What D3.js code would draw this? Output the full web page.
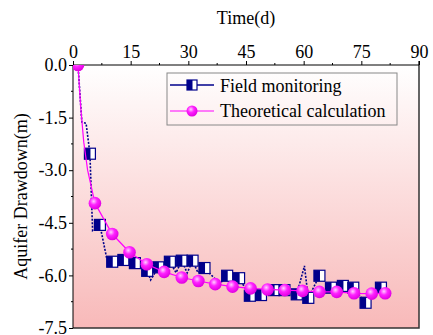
<!DOCTYPE html>
<html>
<head>
<meta charset="utf-8">
<script src="https://cdn.jsdelivr.net/npm/d3@7"></script>
<style>
  body { margin: 0; background: #fff; }
  text { font-family: "Liberation Serif", "Tinos", "Times New Roman", "DejaVu Serif Condensed", "DejaVu Serif", serif; fill: #000; }
</style>
</head>
<body>
<svg id="chart" width="433" height="335"></svg>
<script>
// field monitoring, line vertices (days, drawdown m)
var fieldDays = [1.3, 2.3, 3.4, 4.4, 5.1, 7.0, 8.8, 10.2, 13.1, 16.1, 19.3, 20.2, 22.2, 25.2, 26.8, 28.3, 29.7, 31.1, 32.5, 34.2, 38.2, 40.1, 43.2, 46.0, 48.9, 52.3, 55.0, 58.2, 60.2, 61.2, 64.1, 67.1, 70.2, 72.9, 76.1, 80.1];
var fieldDrawdown = [0, -1.63, -1.66, -2.53, -4.72, -4.56, -5.53, -5.61, -5.56, -5.65, -5.87, -6.13, -5.77, -5.61, -5.92, -5.58, -5.93, -5.58, -5.92, -5.79, -6.24, -6.01, -6.08, -6.58, -6.56, -6.42, -6.42, -6.54, -5.73, -6.64, -6.01, -6.35, -6.30, -6.35, -6.78, -6.35];
// days that carry a square symbol
var fieldMarked = [4.4, 7.0, 10.2, 13.1, 16.1, 19.3, 22.2, 25.2, 28.3, 31.1, 34.2, 40.1, 43.2, 46.0, 48.9, 52.3, 55.0, 58.2, 61.2, 64.1, 67.1, 70.2, 72.9, 76.1, 80.1];

// theoretical calculation
var theoDays = [1.3, 2.0, 2.8, 3.8, 5.7, 10.2, 14.7, 19.2, 23.7, 28.3, 32.6, 37.0, 41.5, 46.2, 50.6, 55.1, 59.7, 64.1, 68.6, 73.1, 77.7, 81.2];
var theoDrawdown = [0, -1.2, -2.2, -3.0, -3.94, -4.82, -5.34, -5.68, -5.90, -6.06, -6.16, -6.25, -6.32, -6.37, -6.40, -6.42, -6.44, -6.47, -6.47, -6.51, -6.52, -6.51];
var theoMarked = [1.3, 5.7, 10.2, 14.7, 19.2, 23.7, 28.3, 32.6, 37.0, 41.5, 46.2, 50.6, 55.1, 59.7, 64.1, 68.6, 73.1, 77.7, 81.2];

var xTicks = [0, 15, 30, 45, 60, 75, 90];
var yTicks = [0, -1.5, -3, -4.5, -6, -7.5];
var seriesNames = ["Field monitoring", "Theoretical calculation"];

var navy = "#00008b", magenta = "#ff00ff";
var pL = 73, pR = 419, pT = 65, pB = 328;
var fontFam = "'Liberation Serif', Tinos, 'Times New Roman', 'DejaVu Serif Condensed', 'DejaVu Serif', serif";

var svg = d3.select("#chart");

var x = d3.scaleLinear().domain([0, 90]).range([pL, pR]);
var y = d3.scaleLinear().domain([0, -7.5]).range([pT, pB]);

var defs = svg.append("defs");
var bg = defs.append("linearGradient").attr("id", "bg")
    .attr("x1", 0).attr("y1", 0).attr("x2", 0).attr("y2", 1);
bg.append("stop").attr("offset", "0%").attr("stop-color", "#ffffff");
bg.append("stop").attr("offset", "100%").attr("stop-color", "#f8b9b9");

var ball = defs.append("radialGradient").attr("id", "ball")
    .attr("cx", "40%").attr("cy", "35%").attr("r", "65%");
ball.append("stop").attr("offset", "0%").attr("stop-color", "#ffd0ff");
ball.append("stop").attr("offset", "45%").attr("stop-color", "#ff22ff");
ball.append("stop").attr("offset", "100%").attr("stop-color", "#e000e0");

defs.append("clipPath").attr("id", "plotclip")
  .append("rect").attr("x", pL).attr("y", pT)
    .attr("width", pR - pL).attr("height", pB - pT);

svg.append("rect")
    .attr("x", pL).attr("y", pT)
    .attr("width", pR - pL).attr("height", pB - pT)
    .attr("fill", "url(#bg)");

// right and bottom frame
svg.append("path")
    .attr("d", "M" + pR + "," + (pT - 4) + "V" + pB + "H" + pL)
    .attr("fill", "none").attr("stroke", "#333").attr("stroke-width", 1.5);

// top axis
var xAxis = d3.axisTop(x).tickValues(xTicks).tickSize(4).tickPadding(3);
var gx = svg.append("g").attr("transform", "translate(0," + pT + ")").call(xAxis);
gx.attr("font-family", null);
gx.selectAll("line").attr("stroke", "#000");
gx.select(".domain").attr("stroke", "#000").attr("d", "M" + pL + ",0H" + pR);
gx.selectAll("text").style("font-size", "18px").style("font-family", fontFam);
gx.selectAll(".minor").data(d3.range(7.5, 90, 15)).enter().append("line")
    .attr("x1", function(d) { return x(d); }).attr("x2", function(d) { return x(d); })
    .attr("y1", 0).attr("y2", -2).attr("stroke", "#000");

// left axis
var yAxis = d3.axisLeft(y).tickValues(yTicks).tickSize(4).tickPadding(2)
    .tickFormat(function(d) { return d3.format(".1f")(d).replace("\u2212", "-"); });
var gy = svg.append("g").attr("transform", "translate(" + pL + ",0)").call(yAxis);
gy.attr("font-family", null);
gy.selectAll("line").attr("stroke", "#000");
gy.select(".domain").attr("stroke", "#000").attr("d", "M0," + pT + "V" + pB);
gy.selectAll("text").style("font-size", "18px").style("font-family", fontFam);
gy.selectAll(".minor").data(d3.range(-0.75, -7.5, -1.5)).enter().append("line")
    .attr("y1", function(d) { return y(d); }).attr("y2", function(d) { return y(d); })
    .attr("x1", 0).attr("x2", -2).attr("stroke", "#000");

svg.append("text")
    .attr("x", (pL + pR) / 2).attr("y", 24)
    .attr("text-anchor", "middle").style("font-size", "18px")
    .text("Time(d)");
svg.append("text")
    .attr("transform", "translate(27," + (pT + pB) / 2 + ") rotate(-90)")
    .attr("text-anchor", "middle").style("font-size", "18px")
    .text("Aquifer Drawdown(m)");

var plot = svg.append("g").attr("clip-path", "url(#plotclip)");

var field = fieldDays.map(function(d, i) { return [d, fieldDrawdown[i]]; });
var theo = theoDays.map(function(d, i) { return [d, theoDrawdown[i]]; });
var line = d3.line().x(function(d) { return x(d[0]); }).y(function(d) { return y(d[1]); });

function square(g, cx, cy, s) {
  g.append("rect").attr("x", cx - s / 2).attr("y", cy - s / 2)
      .attr("width", s).attr("height", s)
      .attr("fill", "#fff").attr("stroke", navy).attr("stroke-width", 1.2);
  g.append("rect").attr("x", cx - s / 2).attr("y", cy - s / 2)
      .attr("width", s * 0.55).attr("height", s)
      .attr("fill", navy);
}

plot.append("path").datum(field).attr("d", line)
    .attr("fill", "none").attr("stroke", navy)
    .attr("stroke-width", 1.6).attr("stroke-dasharray", "2,1.5");

field.filter(function(d) { return fieldMarked.indexOf(d[0]) >= 0; }).forEach(function(d) {
  square(plot, x(d[0]), y(d[1]), 11);
});

plot.append("path").datum(theo).attr("d", line)
    .attr("fill", "none").attr("stroke", magenta).attr("stroke-width", 1.2);

plot.selectAll(".ball")
    .data(theo.filter(function(d) { return theoMarked.indexOf(d[0]) >= 0; }))
  .enter().append("circle")
    .attr("cx", function(d) { return x(d[0]); })
    .attr("cy", function(d) { return y(d[1]); })
    .attr("r", 6.3)
    .attr("fill", "url(#ball)");

// legend
var lg = svg.append("g");
lg.append("rect").attr("x", 167).attr("y", 73).attr("width", 230).attr("height", 52)
    .attr("fill", "none").attr("stroke", "#888").attr("stroke-width", 1);
lg.append("line").attr("x1", 170).attr("x2", 214).attr("y1", 85).attr("y2", 85)
    .attr("stroke", navy).attr("stroke-width", 1.6);
square(lg, 192, 85, 10);
lg.append("text").attr("x", 220).attr("y", 92).style("font-size", "18px").text(seriesNames[0]);
lg.append("line").attr("x1", 170).attr("x2", 214).attr("y1", 111).attr("y2", 111)
    .attr("stroke", magenta).attr("stroke-width", 1);
lg.append("circle").attr("cx", 192).attr("cy", 111).attr("r", 5.5).attr("fill", "url(#ball)");
lg.append("text").attr("x", 220).attr("y", 117).style("font-size", "18px").text(seriesNames[1]);
</script>
</body>
</html>
